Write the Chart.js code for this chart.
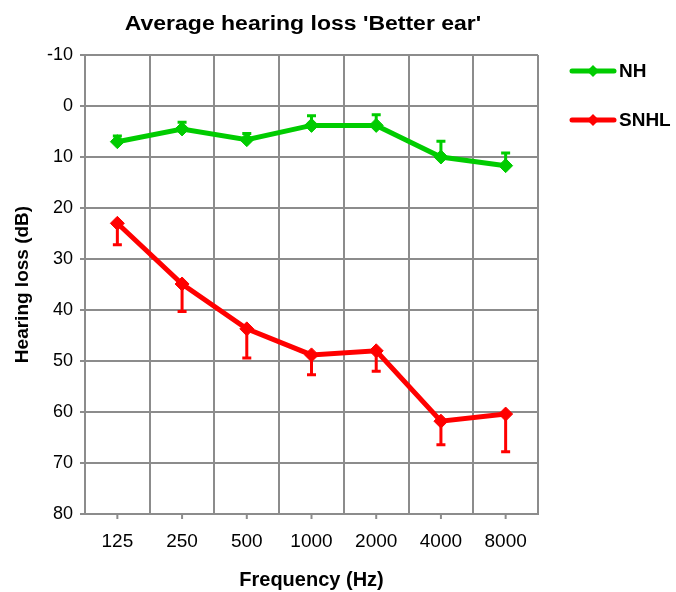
<!DOCTYPE html>
<html lang="en">
<head>
  <meta charset="UTF-8" />
  <title>Average hearing loss</title>
  <script src="https://cdn.jsdelivr.net/npm/chart.js"></script>
  <style>
    html, body { margin: 0; padding: 0; background: #ffffff; }
    #wrap { width: 676px; height: 592px; }
  </style>
</head>
<body>
  <div id="wrap"><canvas id="chart" width="676" height="592"></canvas></div>

  <script>
    const frequencies = ["125", "250", "500", "1000", "2000", "4000", "8000"];

    // mean hearing level (dB) per frequency and one-sided SD
    const nhMean = [7.0, 4.5, 6.6, 3.8, 3.8, 10.0, 11.7];
    const nhSd = [1.1, 1.3, 1.2, 1.9, 2.1, 3.1, 2.5];
    const snhlMean = [23.0, 34.9, 43.7, 48.8, 48.0, 61.8, 60.4];
    const snhlSd = [4.2, 5.4, 5.7, 3.9, 4.0, 4.6, 7.4];

    const yTicks = { min: -10, max: 80, step: 10 };

    const FONT = "'Liberation Sans', Arial, sans-serif";
    const GRID = "#8c8c8c";
    const GREEN = "#00cc00";
    const RED = "#ff0000";

    // error bars: sign -1 draws towards the top, +1 towards the bottom
    const errorBars = {
      id: "errorBars",
      afterDatasetsDraw(chart) {
        const { ctx, scales: { x, y } } = chart;
        chart.data.datasets.forEach((ds) => {
          ctx.save();
          ctx.strokeStyle = ds.borderColor;
          ctx.lineWidth = 3;
          ds.sd.forEach((sd, i) => {
            const px = x.getPixelForValue(i);
            const y0 = y.getPixelForValue(ds.data[i]);
            const y1 = y.getPixelForValue(ds.data[i] + ds.errSign * sd);
            ctx.beginPath();
            ctx.moveTo(px, y0);
            ctx.lineTo(px, y1);
            ctx.moveTo(px - 4.5, y1);
            ctx.lineTo(px + 4.5, y1);
            ctx.stroke();
          });
          ctx.restore();
        });
      }
    };

    // title, centre ticks on the x axis and the line legend
    const extras = {
      id: "extras",
      afterDraw(chart) {
        const { ctx, scales: { x } } = chart;
        ctx.save();
        ctx.fillStyle = "#000";
        ctx.font = "bold 20px " + FONT;
        ctx.textAlign = "center";
        ctx.textBaseline = "middle";
        ctx.save();
        ctx.translate(303, 24);
        ctx.scale(1.15, 1);
        ctx.fillText("Average hearing loss 'Better ear'", 0, 0);
        ctx.restore();

        ctx.strokeStyle = GRID;
        ctx.lineWidth = 2;
        frequencies.forEach((f, i) => {
          const px = x.getPixelForValue(i);
          ctx.beginPath();
          ctx.moveTo(px, x.top);
          ctx.lineTo(px, x.top + 5);
          ctx.stroke();
        });

        const legendY = [71, 120];
        chart.data.datasets.forEach((ds, k) => {
          const ly = legendY[k];
          ctx.strokeStyle = ds.borderColor;
          ctx.fillStyle = ds.borderColor;
          ctx.lineWidth = 5;
          ctx.lineCap = "round";
          ctx.beginPath();
          ctx.moveTo(572, ly);
          ctx.lineTo(614, ly);
          ctx.stroke();
          ctx.beginPath();
          ctx.moveTo(593, ly - 6);
          ctx.lineTo(599, ly);
          ctx.lineTo(593, ly + 6);
          ctx.lineTo(587, ly);
          ctx.closePath();
          ctx.fill();
          ctx.fillStyle = "#000";
          ctx.font = "bold 19px " + FONT;
          ctx.textAlign = "left";
          ctx.fillText(ds.label, 619, ly + 1);
        });
        ctx.restore();
      }
    };

    new Chart(document.getElementById("chart").getContext("2d"), {
      type: "line",
      data: {
        labels: frequencies,
        datasets: [
          {
            label: "NH",
            data: nhMean,
            sd: nhSd,
            errSign: -1,
            borderColor: GREEN,
            backgroundColor: GREEN,
            borderWidth: 5,
            pointStyle: "rectRot",
            pointRadius: 7,
            pointBorderWidth: 1,
            tension: 0,
            fill: false
          },
          {
            label: "SNHL",
            data: snhlMean,
            sd: snhlSd,
            errSign: 1,
            borderColor: RED,
            backgroundColor: RED,
            borderWidth: 5,
            pointStyle: "rectRot",
            pointRadius: 7,
            pointBorderWidth: 1,
            tension: 0,
            fill: false
          }
        ]
      },
      options: {
        responsive: false,
        animation: false,
        layout: { padding: { top: 55, right: 138, left: 0, bottom: 0 } },
        plugins: {
          legend: { display: false },
          tooltip: { enabled: false },
          title: { display: false }
        },
        scales: {
          x: {
            offset: true,
            afterFit: (s) => { s.height = 78; },
            grid: { offset: true, color: GRID, lineWidth: 2, drawTicks: false },
            border: { color: GRID, width: 2 },
            ticks: { color: "#000", font: { family: FONT, size: 19 }, padding: 16 },
            title: {
              display: true,
              text: "Frequency (Hz)",
              color: "#000",
              font: { family: FONT, size: 20, weight: "bold" },
              padding: { top: 0, bottom: 0 }
            }
          },
          y: {
            reverse: true,
            min: yTicks.min,
            max: yTicks.max,
            afterFit: (s) => { s.width = 85; },
            grid: { color: GRID, lineWidth: 2, tickLength: 5 },
            border: { color: GRID, width: 2 },
            ticks: { stepSize: yTicks.step, color: "#000", font: { family: FONT, size: 18 }, padding: 7 },
            title: {
              display: true,
              text: "Hearing loss (dB)",
              color: "#000",
              font: { family: FONT, size: 19, weight: "bold" },
              padding: { top: 11, bottom: 0 }
            }
          }
        }
      },
      plugins: [errorBars, extras]
    });
  </script>
</body>
</html>
